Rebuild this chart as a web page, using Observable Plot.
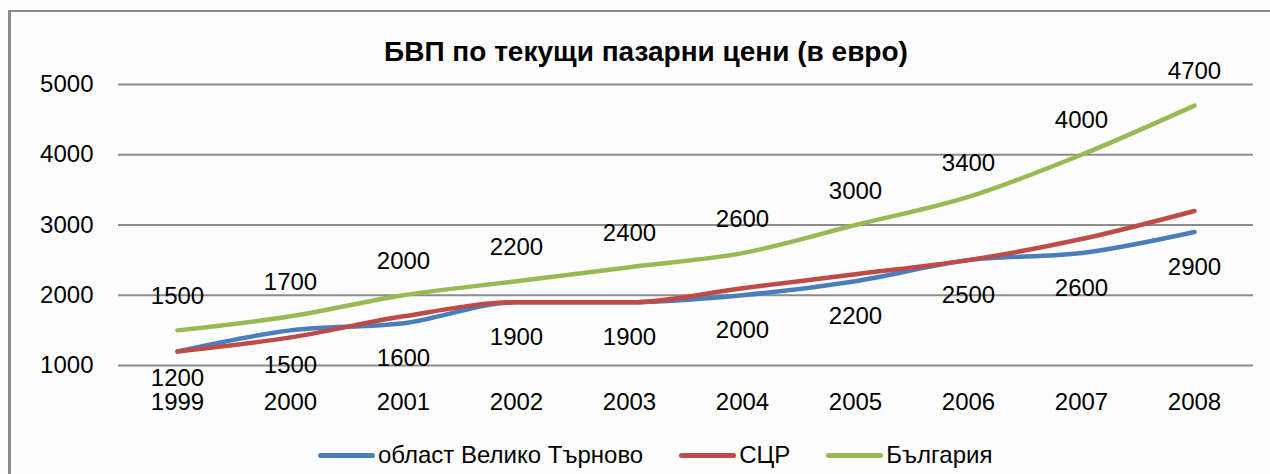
<!DOCTYPE html>
<html>
<head>
<meta charset="utf-8">
<script src="https://cdn.jsdelivr.net/npm/d3@7"></script>
<script src="https://cdn.jsdelivr.net/npm/@observablehq/plot@0.6"></script>
<style>
  html, body { margin: 0; padding: 0; background: #fdfdfd; width: 1270px; height: 474px; overflow: hidden; }
  body { position: relative; font-family: "Liberation Sans", Arial, sans-serif; color: #000; }
  #frame { position: absolute; left: 8px; top: 10px; width: 1300px; height: 520px; border-left: 3px solid #8a8a8a; border-top: 2px solid #8a8a8a; }
  #title { position: absolute; left: 0; top: 36px; width: 1292px; text-align: center; font-weight: bold; font-size: 28px; line-height: 32px; }
  #chart { position: absolute; left: 0; top: 0; }
  #legend { position: absolute; left: 318px; top: 441px; display: flex; align-items: center; gap: 36px; font-size: 24px; line-height: 28px; }
  .item { display: flex; align-items: center; gap: 3px; }
  .sw { width: 57px; height: 5px; border-radius: 2.5px; }
</style>
</head>
<body>
<div id="frame"></div>
<div id="title"></div>
<div id="chart"></div>
<div id="legend"></div>
<script>
const titleText = "БВП по текущи пазарни цени (в евро)";
const years = ["1999","2000","2001","2002","2003","2004","2005","2006","2007","2008"];
const seriesNames = ["област Велико Търново", "СЦР", "България"];
const seriesColors = ["#4a7ebb", "#be4b48", "#98b954"];
const velikoTarnovo = [1200, 1500, 1600, 1900, 1900, 2000, 2200, 2500, 2600, 2900];
const sczr = [1200, 1400, 1700, 1900, 1900, 2100, 2300, 2500, 2800, 3200];
const bulgaria = [1500, 1700, 2000, 2200, 2400, 2600, 3000, 3400, 4000, 4700];
const yTicks = [1000, 2000, 3000, 4000, 5000];

const seriesValues = [velikoTarnovo, sczr, bulgaria];
const data = [];
seriesNames.forEach((s, i) => years.forEach((y, j) => data.push({series: s, year: y, value: seriesValues[i][j]})));

document.getElementById("title").textContent = titleText;

const blueLabels = data.filter(d => d.series === seriesNames[0]);
const greenLabels = data.filter(d => d.series === seriesNames[2]);

const chart = Plot.plot({
  width: 1270,
  height: 474,
  marginLeft: 118,
  marginRight: 17,
  marginTop: 84,
  marginBottom: 109,
  style: {fontFamily: "'Liberation Sans', Arial, sans-serif", fontSize: "24px", background: "transparent", color: "#000"},
  x: {type: "point", domain: years, padding: 0.49, label: null, tickSize: 0, tickPadding: 27},
  y: {domain: [1000, 5000], ticks: yTicks, label: null, tickSize: 0, tickPadding: 25, tickFormat: d => String(d)},
  color: {domain: seriesNames, range: seriesColors},
  marks: [
    Plot.ruleY(yTicks, {stroke: "#8c8c8c", strokeWidth: 2}),
    Plot.line(data, {x: "year", y: "value", z: "series", stroke: "series", curve: "monotone-x", strokeWidth: 4.5, strokeLinecap: "round", strokeLinejoin: "round"}),
    Plot.text(greenLabels, {x: "year", y: "value", text: d => String(d.value), dy: -34, fill: "#000"}),
    Plot.text(blueLabels.slice(0, 1), {x: "year", y: "value", text: d => String(d.value), dy: 27, fill: "#000"}),
    Plot.text(blueLabels.slice(1), {x: "year", y: "value", text: d => String(d.value), dy: 35, fill: "#000"})
  ]
});
document.getElementById("chart").appendChild(chart);

const legend = document.getElementById("legend");
seriesNames.forEach((s, i) => {
  const item = document.createElement("div");
  item.className = "item";
  const sw = document.createElement("div");
  sw.className = "sw";
  sw.style.background = seriesColors[i];
  const lab = document.createElement("span");
  lab.textContent = s;
  item.appendChild(sw);
  item.appendChild(lab);
  legend.appendChild(item);
});
</script>
</body>
</html>
